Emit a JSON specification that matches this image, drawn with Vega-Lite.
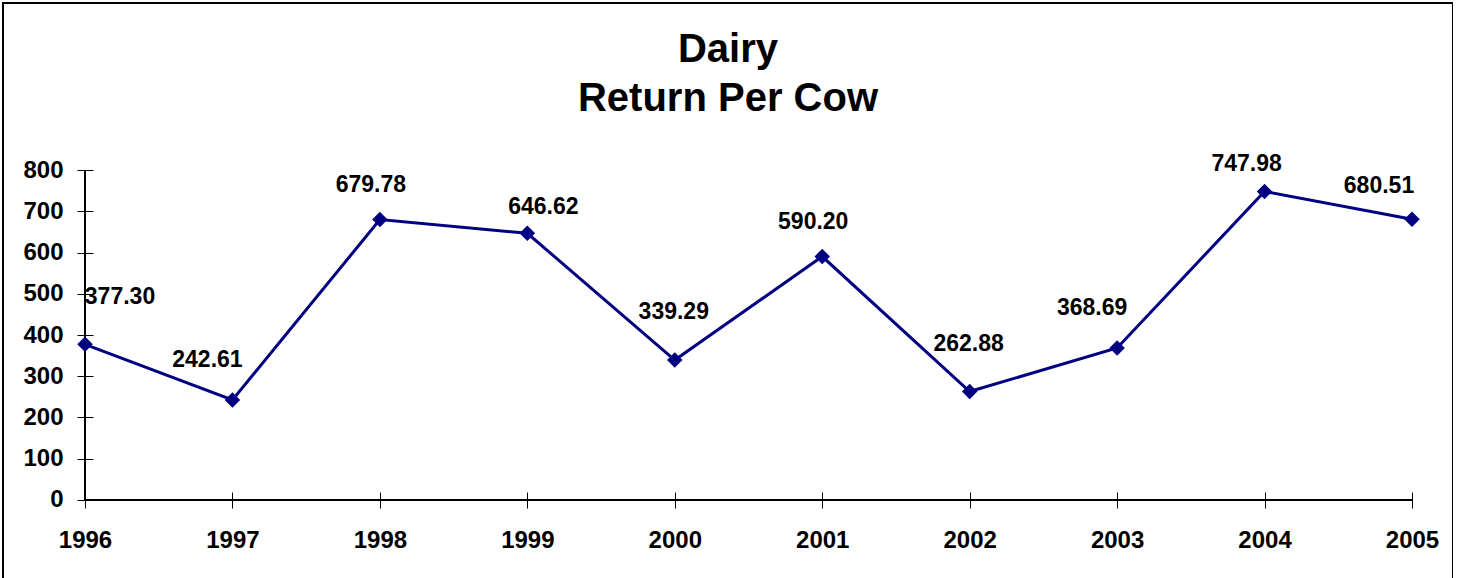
{
  "$schema": "https://vega.github.io/schema/vega-lite/v6.json",
  "autosize": "none",
  "width": 1450,
  "height": 577,
  "padding": {"left": 3, "top": 3, "right": 0, "bottom": 0},
  "background": "white",
  "config": {
    "font": "Liberation Sans",
    "view": {"stroke": "#000000", "strokeWidth": 2}
  },
  "title": {
    "text": ["Dairy", "Return Per Cow"],
    "font": "Liberation Sans",
    "fontSize": 40,
    "fontWeight": "bold",
    "color": "#000000",
    "anchor": "middle",
    "baseline": "alphabetic",
    "lineHeight": 49,
    "offset": 0,
    "dy": 148
  },
  "data": {
    "values": [
      {"year": 1996, "value": 377.30},
      {"year": 1997, "value": 242.61},
      {"year": 1998, "value": 679.78},
      {"year": 1999, "value": 646.62},
      {"year": 2000, "value": 339.29},
      {"year": 2001, "value": 590.20},
      {"year": 2002, "value": 262.88},
      {"year": 2003, "value": 368.69},
      {"year": 2004, "value": 747.98},
      {"year": 2005, "value": 680.51}
    ]
  },
  "encoding": {
    "x": {
      "field": "year",
      "type": "quantitative",
      "scale": {"domain": [1995.4439, 2005.2781], "nice": false, "zero": false},
      "axis": {
        "values": [1996, 1997, 1998, 1999, 2000, 2001, 2002, 2003, 2004, 2005],
        "format": "d",
        "title": null,
        "domain": false,
        "grid": false,
        "offset": -88,
        "tickSize": 16,
        "tickColor": "#000000",
        "tickWidth": 1,
        "labelFont": "Liberation Sans",
        "labelFontSize": 24,
        "labelFontWeight": "bold",
        "labelColor": "#000000",
        "labelPadding": 20,
        "labelFlush": false,
        "labelOverlap": false
      }
    },
    "y": {
      "field": "value",
      "type": "quantitative",
      "scale": {"domain": [-193.94, 1204.85], "nice": false, "zero": false},
      "axis": {
        "values": [0, 100, 200, 300, 400, 500, 600, 700, 800],
        "title": null,
        "domain": false,
        "grid": false,
        "offset": -90,
        "tickSize": 16,
        "tickColor": "#000000",
        "tickWidth": 1,
        "labelFont": "Liberation Sans",
        "labelFontSize": 24,
        "labelFontWeight": "bold",
        "labelColor": "#000000",
        "labelPadding": 14,
        "labelFlush": false,
        "labelOverlap": false
      }
    }
  },
  "layer": [
    {
      "mark": {"type": "rule", "color": "#000000", "strokeWidth": 1},
      "encoding": {
        "x": {"datum": 1996, "type": "quantitative"},
        "y": {"datum": 0, "type": "quantitative"},
        "y2": {"datum": 800}
      }
    },
    {
      "mark": {"type": "rule", "color": "#000000", "strokeWidth": 1},
      "encoding": {
        "x": {"datum": 1996, "type": "quantitative"},
        "x2": {"datum": 2005},
        "y": {"datum": 0, "type": "quantitative"}
      }
    },
    {
      "mark": {"type": "line", "color": "#000080", "strokeWidth": 3}
    },
    {
      "mark": {"type": "point", "shape": "diamond", "filled": true, "color": "#000080", "size": 240, "opacity": 1}
    },
    {
      "transform": [{"filter": "datum.year == 1998 || datum.year == 2001"}],
      "mark": {"type": "text", "font": "Liberation Sans", "fontSize": 23, "fontWeight": "bold", "color": "#000000", "align": "center", "baseline": "middle", "dx": -9, "dy": -35},
      "encoding": {"text": {"field": "value", "type": "quantitative", "format": ".2f"}}
    },
    {
      "transform": [{"filter": "datum.year == 2000 || datum.year == 2002"}],
      "mark": {"type": "text", "font": "Liberation Sans", "fontSize": 23, "fontWeight": "bold", "color": "#000000", "align": "center", "baseline": "middle", "dx": -1, "dy": -48},
      "encoding": {"text": {"field": "value", "type": "quantitative", "format": ".2f"}}
    },
    {
      "transform": [{"filter": "datum.year == 1997 || datum.year == 2003"}],
      "mark": {"type": "text", "font": "Liberation Sans", "fontSize": 23, "fontWeight": "bold", "color": "#000000", "align": "center", "baseline": "middle", "dx": -25, "dy": -40},
      "encoding": {"text": {"field": "value", "type": "quantitative", "format": ".2f"}}
    },
    {
      "transform": [{"filter": "datum.year == 1999"}],
      "mark": {"type": "text", "font": "Liberation Sans", "fontSize": 23, "fontWeight": "bold", "color": "#000000", "align": "center", "baseline": "middle", "dx": 16, "dy": -26},
      "encoding": {"text": {"field": "value", "type": "quantitative", "format": ".2f"}}
    },
    {
      "transform": [{"filter": "datum.year == 2004"}],
      "mark": {"type": "text", "font": "Liberation Sans", "fontSize": 23, "fontWeight": "bold", "color": "#000000", "align": "center", "baseline": "middle", "dx": -18, "dy": -27},
      "encoding": {"text": {"field": "value", "type": "quantitative", "format": ".2f"}}
    },
    {
      "transform": [{"filter": "datum.year == 2005"}],
      "mark": {"type": "text", "font": "Liberation Sans", "fontSize": 23, "fontWeight": "bold", "color": "#000000", "align": "center", "baseline": "middle", "dx": -33, "dy": -33},
      "encoding": {"text": {"field": "value", "type": "quantitative", "format": ".2f"}}
    },
    {
      "transform": [{"filter": "datum.year == 1996"}],
      "mark": {"type": "text", "font": "Liberation Sans", "fontSize": 23, "fontWeight": "bold", "color": "#000000", "align": "center", "baseline": "middle", "dx": 35, "dy": -47},
      "encoding": {"text": {"field": "value", "type": "quantitative", "format": ".2f"}}
    }
  ]
}
